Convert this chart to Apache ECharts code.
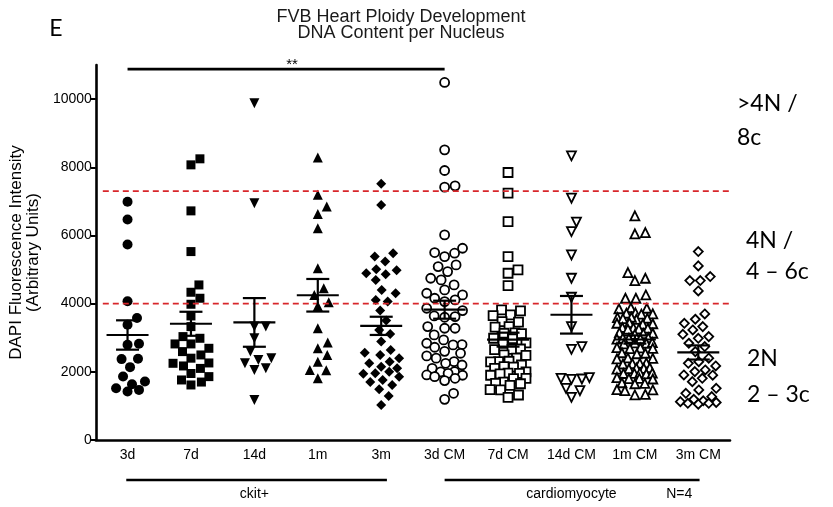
<!DOCTYPE html>
<html><head><meta charset="utf-8">
<script src="https://cdn.jsdelivr.net/npm/echarts@6/dist/echarts.min.js"></script>
<style>html,body{margin:0;padding:0;background:#fff}#c{width:833px;height:507px}</style>
</head><body><div id="c"></div>
<script>
// ---------- data ----------
const categories = ['3d','7d','14d','1m','3m','3d CM','7d CM','14d CM','1m CM','3m CM'];
const yTicks = [0,2000,4000,6000,8000,10000];
const thresholds = [7300, 4000];
const sigFrom = 0, sigTo = 5, sigValue = 10880, sigText = '**';

const v3d = [6990,6470,5735,4069,3578,3382,2824,2794,2382,2373,2137,1863,1716,1637,1520,1470,1422];
const v7d = [8248,8071,6721,5527,4549,4334,4158,3982,3639,3326,3033,2984,2818,2818,2690,2593,2495,2400,2250,2260,2172,2100,1950,1859,1761,1700,1614];
const v14d = [9881,6946,3326,3326,2984,2593,2400,2348,2250,2103,2055,1174];
const v1m = [8286,7191,6848,6633,6213,5038,4451,4256,4040,3933,3278,2857,2690,2495,2299,2055,2045,1810];
const v3m = [7514,6897,5479,5381,5234,5009,4980,4892,4863,4696,4403,4305,4109,4060,3796,3502,3229,3111,2886,2642,2563,2495,2400,2299,2250,2152,2103,2000,1957,1947,1859,1761,1700,1614,1487,1291,1027];
const v3dCM = [10488,8512,7905,7416,7455,6017,5625,5479,5499,5381,5136,5087,4941,4745,4696,4549,4403,4305,4256,4158,4109,4060,3865,3796,3639,3620,3600,3326,3278,3278,3082,2935,2838,2800,2789,2720,2600,2544,2466,2400,2299,2250,2200,2103,2006,2000,1957,1908,1900,1859,1810,1742,1370,1193];
const v7dCM = [7846,7240,6408,5381,4990,4892,4530,3816,3790,3669,3650,3473,3460,3326,3310,3131,3140,3120,2984,2970,2838,2850,2661,2670,2650,2495,2480,2400,2299,2310,2290,2200,2152,2140,2100,2000,1957,1960,1940,1900,1810,1800,1700,1663,1650,1600,1468,1480,1320,1252];
const v14dCM = [8335,7093,6389,6115,5430,4745,4187,3326,2740,2661,1830,1810,1790,1780,1516,1448,1252];
const v1mCM = [6574,6085,6046,4911,4745,4676,4256,4158,4158,
  3865,3880,3850,3718,3730,3700,3690,3571,3590,3560,3540,3600,3424,3440,3410,3400,
  3278,3290,3260,3300,3250,3131,3150,3120,3100,2984,3000,2970,2960,2990,2838,2850,2820,2860,
  2690,2700,2680,2710,2544,2560,2530,2397,2410,2380,2250,2260,2240,2230,2103,2120,2090,2110,2080,
  1957,1970,1940,1960,1950,1810,1830,1800,1790,1663,1680,1650,1468,1480,1450,1321,1340];
const v3mCM = [5527,5107,4794,4676,4676,4373,3698,3542,3424,3326,3229,3100,3033,2984,2838,2740,2593,2400,2299,2250,2172,2055,2006,1908,1900,1810,1712,1516,1468,1370,1272,1193,1150,1125,1100,1076,1076,1050];

const groups = [v3d,v7d,v14d,v1m,v3m,v3dCM,v7dCM,v14dCM,v1mCM,v3mCM];

// ---------- styles ----------
const marks = [
  {symbol:'circle', size:10, rot:0, hollow:false},
  {symbol:'rect', size:9, rot:0, hollow:false},
  {symbol:'triangle', size:10, rot:180, hollow:false},
  {symbol:'triangle', size:10, rot:0, hollow:false},
  {symbol:'diamond', size:10, rot:0, hollow:false},
  {symbol:'circle', size:9, rot:0, hollow:true},
  {symbol:'rect', size:9, rot:0, hollow:true},
  {symbol:'triangle', size:9, rot:180, hollow:true},
  {symbol:'triangle', size:9, rot:0, hollow:true},
  {symbol:'diamond', size:9, rot:0, hollow:true}
];
const G = {left:93, right:103, top:65, bottom:67};
const W = 833, H = 507, yMax = 11000;
const pxPerCat = (W - G.left - G.right) / categories.length;
const pxPerVal = (H - G.top - G.bottom) / yMax;
const FONT = '"Liberation Sans", Arial, sans-serif';

// beeswarm layout (pixel-space collision), returns x offsets in category units
function swarm(vals, d, cap) {
  const order = vals.map((v,i)=>i).sort((a,b)=>vals[a]-vals[b]);
  const placed = [], out = new Array(vals.length);
  const cands = [0];
  for (let s = 0.5; s <= cap; s += 0.5) cands.push(s, -s);
  for (const i of order) {
    const y = vals[i] * pxPerVal;
    let chosen = null, fb = 0, fbScore = -1;
    for (const x of cands) {
      let minD = Infinity;
      for (const p of placed) {
        const dy = p.y - y; if (Math.abs(dy) >= d) continue;
        const dd = Math.hypot(p.x - x, dy); if (dd < minD) minD = dd;
      }
      if (minD >= d) { chosen = x; break; }
      if (minD > fbScore + 0.3) { fbScore = minD; fb = x; }
    }
    if (chosen === null) chosen = fb;
    placed.push({x: chosen, y});
    out[i] = chosen / pxPerCat;
  }
  return out;
}

function stats(vals) {
  const n = vals.length;
  const m = vals.reduce((a,b)=>a+b,0)/n;
  const sd = Math.sqrt(vals.reduce((a,b)=>a+(b-m)*(b-m),0)/(n-1));
  return [m, sd/Math.sqrt(n)];
}

const series = [];
groups.forEach((vals, gi) => {
  const mk = marks[gi];
  const offs = swarm(vals, mk.size + 1.5, 18);
  series.push({
    type:'scatter', xAxisIndex:1, yAxisIndex:0, z:3,
    symbol: mk.symbol, symbolSize: mk.size, symbolRotate: mk.rot,
    itemStyle: mk.hollow ? {color:'#fff', borderColor:'#000', borderWidth:1.8, opacity:1}
                         : {color:'#000', opacity:1},
    emphasis:{disabled:true}, silent:true,
    data: vals.map((v,i)=>[gi + offs[i], v])
  });
});

// mean +- SEM
series.push({
  type:'custom', xAxisIndex:1, yAxisIndex:0, z:6, silent:true,
  renderItem: function (params, api) {
    const i = api.value(0), m = api.value(1), s = api.value(2);
    const c = api.coord([i, m]), t = api.coord([i, m + s]), b = api.coord([i, m - s]);
    const st = {stroke:'#000', lineWidth:2.2};
    return {type:'group', children:[
      {type:'line', shape:{x1:c[0]-21, y1:c[1], x2:c[0]+21, y2:c[1]}, style:st},
      {type:'line', shape:{x1:c[0], y1:t[1], x2:c[0], y2:b[1]}, style:st},
      {type:'line', shape:{x1:c[0]-11.5, y1:t[1], x2:c[0]+11.5, y2:t[1]}, style:st},
      {type:'line', shape:{x1:c[0]-11.5, y1:b[1], x2:c[0]+11.5, y2:b[1]}, style:st}
    ]};
  },
  data: groups.map((g, i) => [i].concat(stats(g)))
});

// threshold lines
thresholds.forEach(t => series.push({
  type:'line', xAxisIndex:1, yAxisIndex:0, clip:false, symbol:'none', silent:true, z:4,
  lineStyle:{color:'#d8262b', width:1.8, type:[6,4]},
  data:[[-0.39, t],[9.86, t]]
}));
// significance bar
series.push({
  type:'line', xAxisIndex:1, yAxisIndex:0, clip:false, symbol:'none', silent:true, z:4,
  lineStyle:{color:'#000', width:2.6},
  data:[[sigFrom, sigValue],[sigTo, sigValue]]
});

const chart = echarts.init(document.getElementById('c'), null, {renderer:'canvas'});
chart.setOption({
  backgroundColor:'#fff',
  animation:false,
  grid:{left:G.left, right:G.right, top:G.top, bottom:G.bottom},
  xAxis:[
    {type:'category', data:categories, boundaryGap:true, position:'bottom',
     axisLine:{onZero:false, lineStyle:{color:'#000', width:2.6}},
     axisTick:{alignWithLabel:true, length:5, lineStyle:{color:'#000', width:2}},
     axisLabel:{color:'#000', fontSize:14, fontFamily:FONT, margin:8, interval:0},
     splitLine:{show:false}},
    {type:'value', min:-0.5, max:9.5, show:false}
  ],
  yAxis:[{
    type:'value', min:0, max:yMax,
    axisLine:{show:true, onZero:false, lineStyle:{color:'#000', width:2.6}},
    axisTick:{show:true, length:5, lineStyle:{color:'#000', width:2}, customValues:yTicks},
    axisLabel:{color:'#000', fontSize:14, fontFamily:FONT, margin:4, customValues:yTicks,
               formatter: v => String(v)},
    splitLine:{show:false},
    name:'DAPI Fluorescence Intensity\n(Arbitrary Units)',
    nameLocation:'middle', nameGap:50, nameRotate:90,
    nameTextStyle:{color:'#000', fontSize:17, fontFamily:FONT, lineHeight:17}
  }],
  series: series
});

// annotations
const px = v => chart.convertToPixel({xAxisIndex:1}, v);
const RF = 'Lato, "Open Sans", sans-serif';
const txt = (x, y, s, opt) => Object.assign({type:'text', x, y, style:Object.assign({text:s, fill:'#000', font:'14px ' + FONT, textAlign:'center', textVerticalAlign:'middle'}, opt||{})});
const yPix = chart.convertToPixel({yAxisIndex:0}, sigValue);
chart.setOption({graphic:[
  txt(401, 17, 'FVB Heart Ploidy Development', {font:'18px ' + FONT, fill:'#1a1a1a'}),
  txt(401, 33, 'DNA Content per Nucleus', {font:'18px ' + FONT, fill:'#1a1a1a'}),
  txt(56, 29, 'E', {font:'23px ' + RF}),
  txt(px((sigFrom+sigTo)/2) + 6, yPix - 4, sigText, {font:'15px ' + FONT}),
  {type:'line', shape:{x1:px(-0.02), y1:480, x2:px(4.09), y2:480}, style:{stroke:'#000', lineWidth:2.5}},
  {type:'line', shape:{x1:px(5), y1:480, x2:px(9.02), y2:480}, style:{stroke:'#000', lineWidth:2.5}},
  txt(px(2), 494, 'ckit+'),
  txt(px(7), 494, 'cardiomyocyte'),
  txt(px(8.7), 494, 'N=4'),
  txt(737, 104, '>4N /', {font:'23px ' + RF, textAlign:'left'}),
  txt(737, 138, '8c', {font:'23px ' + RF, textAlign:'left'}),
  txt(746, 241, '4N /', {font:'23px ' + RF, textAlign:'left'}),
  txt(746, 272, '4 \u2013 6c', {font:'23px ' + RF, textAlign:'left'}),
  txt(747, 359, '2N', {font:'23px ' + RF, textAlign:'left'}),
  txt(747, 395, '2 \u2013 3c', {font:'23px ' + RF, textAlign:'left'})
]});
</script></body></html>
